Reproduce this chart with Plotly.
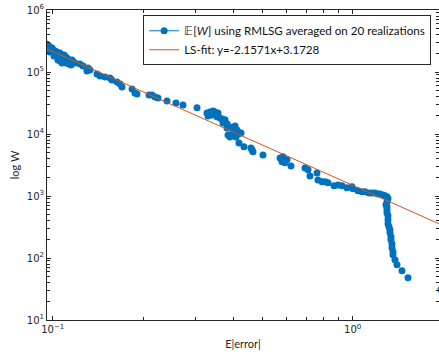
import math
import plotly.graph_objects as go

# Expected error (x) and expected W (y)
err = [0.0950, 0.0965, 0.0979, 0.0995, 0.1002, 0.1018, 0.1033, 0.1041, 0.1057, 0.1066,
       0.1074, 0.1082, 0.1057, 0.1091, 0.1107, 0.1125, 0.1142, 0.1160, 0.1169, 0.1026,
       0.1099, 0.1133, 0.1187, 0.0979, 0.1010, 0.1049, 0.1074, 0.1107, 0.1151, 0.1116,
       0.1041, 0.1091,
       0.1233, 0.1262, 0.1311, 0.1301, 0.1331, 0.1405, 0.1438, 0.1494, 0.1552, 0.1576,
       0.1638, 0.1676, 0.1702, 0.1838, 0.1880, 0.1910, 0.2094, 0.2143, 0.2193, 0.2244,
       0.2404, 0.2576, 0.2718, 0.3027,
       0.3268, 0.3344, 0.3422, 0.3475, 0.3556, 0.3294, 0.3396, 0.3529, 0.3611, 0.3667,
       0.3752, 0.3695, 0.3811, 0.3899, 0.3811, 0.3960, 0.4052, 0.4114, 0.3840, 0.3990,
       0.4147, 0.4210, 0.3899, 0.4083, 0.4243, 0.4178, 0.4341,
       0.4581, 0.4616, 0.4652, 0.5023, 0.5726, 0.5815, 0.5860, 0.6040, 0.5949, 0.6229,
       0.6934, 0.7096, 0.7206, 0.7603, 0.7662, 0.7902, 0.8086, 0.8274, 0.8664, 0.8933,
       0.9212, 0.9572, 0.9947, 1.0023, 1.0416, 1.0740, 1.0990, 1.1333, 1.1600, 1.1867,
       1.2143, 1.2330, 1.2618, 1.2814, 1.3012, 1.3114, 1.3012, 1.2912, 1.3012, 1.3012,
       1.3012, 1.3114, 1.3114, 1.3114, 1.3213, 1.3315, 1.3315, 1.3419, 1.3419, 1.3521,
       1.3521, 1.3626, 1.3626, 1.3836, 1.4051, 1.4600, 1.5289, 1.969]
W = [283000, 273000, 254000, 244000, 226000, 218000, 210000, 188000, 203000, 175000,
     162000, 151000, 151000, 188000, 175000, 162000, 145000, 156000, 145000, 181000,
     156000, 135000, 140000, 210000, 181000, 169000, 140000, 140000, 130000, 151000,
     156000, 145000,
     135000, 125000, 116000, 104000, 108000, 93100, 86300, 83200, 80200, 74500,
     69200, 64100, 57400, 53300, 45900, 44300, 42700, 42700, 39600, 38200,
     34200, 31700, 29400, 26400,
     21900, 22700, 23600, 22700, 21900, 19600, 20300, 18900, 18200, 17500,
     16900, 15100, 14600, 13000, 12500, 12100, 13500, 11600, 9680, 10400,
     10000, 10400, 8980, 8980, 10400, 7190, 6200,
     5970, 5550, 5150, 4600, 4120, 3560, 4280, 3830, 3430, 3060,
     2840, 2640, 2110, 2360, 1820, 1690, 1690, 1630, 1460, 1510,
     1460, 1360, 1410, 1310, 1210, 1170, 1170, 1120, 1120, 1120,
     1080, 1080, 1040, 1010, 970, 899, 805, 721, 668, 598,
     535, 480, 413, 356, 318, 285, 255, 220, 197, 169,
     146, 126, 113, 93.5, 77.8, 62.2, 48.0, 30.8]

fit_slope = -2.1571
fit_intercept = 3.1728
fit_x = [0.0957, 2.2]
fit_y = [10 ** (fit_intercept + fit_slope * math.log10(v)) for v in fit_x]

series_name = "\U0001D53C[<i>W</i>] using RMLSG averaged on 20 realizations"
fit_name = "LS-fit: y=-2.1571x+3.1728"

y_major = [10, 100, 1000, 10000, 100000, 1000000]
y_major_text = ["10<sup>1</sup>", "10<sup>2</sup>", "10<sup>3</sup>",
                "10<sup>4</sup>", "10<sup>5</sup>", "10<sup>6</sup>"]
x_major = [0.1, 1]
x_major_text = ["10<sup>\u22121</sup>", "10<sup>0</sup>"]

y_minor = [m * 10 ** k for k in range(1, 6) for m in range(2, 10)]
x_minor = [m * 0.1 for m in range(2, 10)] + [2]

blue = "#0072BD"
orange = "#D95319"
axc = "#262626"

fig = go.Figure()
fig.add_trace(go.Scatter(x=[None], y=[None], mode="lines+markers", name=series_name,
                         line=dict(color=blue, width=1), marker=dict(color=blue, size=7)))
fig.add_trace(go.Scatter(x=err, y=W, mode="markers", showlegend=False,
                         marker=dict(color=blue, size=7)))
fig.add_trace(go.Scatter(x=fit_x, y=fit_y, mode="lines", name=fit_name,
                         line=dict(color=orange, width=1)))

fig.update_layout(
    width=439, height=354,
    margin=dict(l=47, r=0, t=10, b=34),
    paper_bgcolor="white", plot_bgcolor="white",
    font=dict(family="DejaVu Sans", size=10, color=axc),
    legend=dict(x=0.98, y=0.983, xanchor="right", yanchor="top",
                bgcolor="white", bordercolor=axc, borderwidth=1,
                font=dict(size=11.6, family="Lato", color="#111111"),
                itemwidth=30, tracegroupgap=0),
    xaxis=dict(type="log", range=[math.log10(0.0957), math.log10(1.94)],
               tickmode="array", tickvals=x_major, ticktext=x_major_text,
               ticks="inside", ticklen=4, tickcolor=axc, showgrid=False, zeroline=False,
               showline=True, linecolor=axc, linewidth=1, mirror="ticks",
               minor=dict(tickmode="array", tickvals=x_minor, ticks="inside",
                          ticklen=3, tickcolor=axc, showgrid=False),
               title=dict(text="E|error|", font=dict(family="Lato", size=11), standoff=6)),
    yaxis=dict(type="log", range=[1, 6],
               tickmode="array", tickvals=y_major, ticktext=y_major_text,
               ticks="inside", ticklen=4, tickcolor=axc, showgrid=False, zeroline=False,
               showline=True, linecolor=axc, linewidth=1, mirror="ticks",
               minor=dict(tickmode="array", tickvals=y_minor, ticks="inside",
                          ticklen=3, tickcolor=axc, showgrid=False),
               title=dict(text="log W", font=dict(family="Lato", size=11), standoff=4)),
)
fig.write_html("out.html")
